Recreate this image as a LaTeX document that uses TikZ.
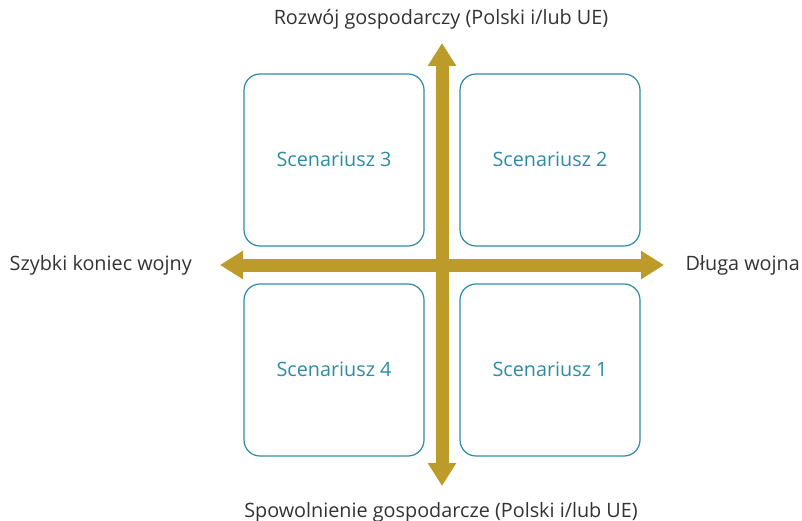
\documentclass[tikz,border=0pt]{standalone}
\usepackage{fontspec}
\setmainfont{Open Sans}
\usetikzlibrary{arrows.meta}
\definecolor{gold}{HTML}{BC9B2A}
\definecolor{teal}{HTML}{2C8CA6}
\definecolor{ink}{HTML}{333333}
\tikzset{
  scen/.style={draw=teal, line width=1.2pt, rounded corners=16pt, minimum width=180pt, minimum height=172pt, text=teal, font=\fontsize{19.8}{24}\selectfont},
  axis/.style={draw=gold, line width=13pt, -{Triangle[width=27pt,length=23pt]}},
  lab/.style={text=ink, font=\fontsize{19.8}{24}\selectfont, inner sep=0pt}
}
\begin{document}
\begin{tikzpicture}[x=1pt,y=1pt]
\useasboundingbox (0,0) rectangle (802,-521);
\node[scen] (s3) at (334,-160) {\raisebox{2pt}{Scenariusz 3}};
\node[scen] (s2) at (550,-160) {\raisebox{2pt}{Scenariusz 2}};
\node[scen] (s4) at (334,-370) {\raisebox{2pt}{Scenariusz 4}};
\node[scen] (s1) at (550,-370) {\raisebox{2pt}{Scenariusz 1}};
\coordinate (c) at (442,-265);
\coordinate (top) at (442,-43);
\coordinate (bot) at (442,-486);
\coordinate (left) at (220,-265);
\coordinate (right) at (664,-265);
\draw[axis] (c) -- (left);
\draw[axis] (c) -- (right);
\draw[axis] (c) -- (top);
\draw[axis] (c) -- (bot);
\node[lab] (ty) at (441,-19) {Rozwój gospodarczy (Polski i/lub UE)};
\node[lab] (by) at (441,-512) {Spowolnienie gospodarcze (Polski i/lub UE)};
\node[lab, anchor=east] (lx) at (192,-265) {Szybki koniec wojny};
\node[lab, anchor=east] (rx) at (800,-265) {Długa wojna};
\end{tikzpicture}
\end{document}
